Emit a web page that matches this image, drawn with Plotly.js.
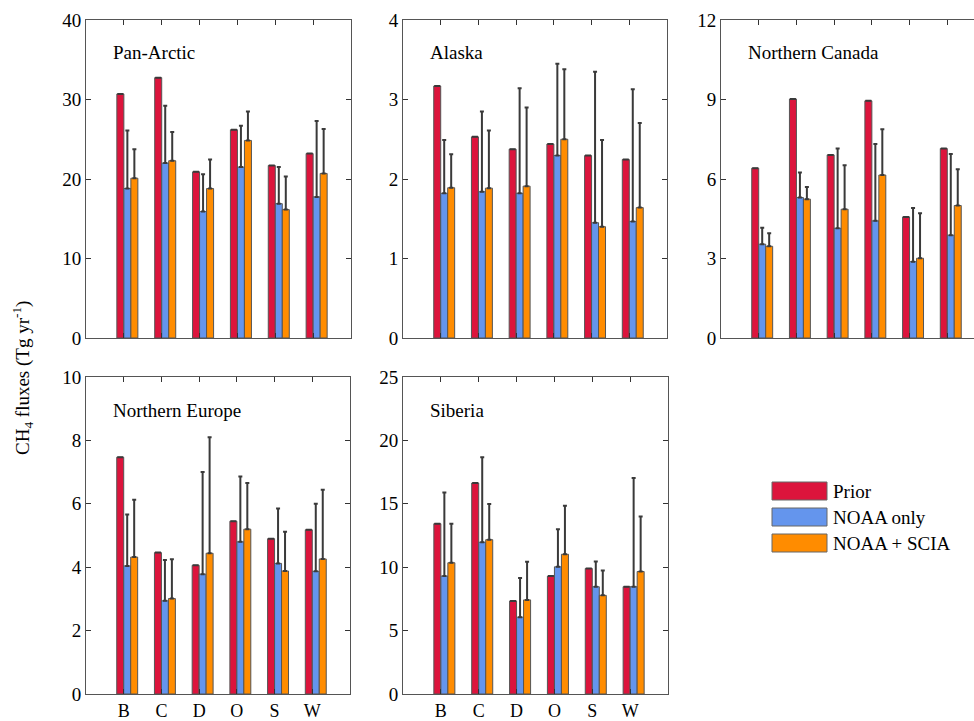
<!DOCTYPE html>
<html>
<head>
<meta charset="utf-8">
<script src="https://cdn.plot.ly/plotly-3.0.1.min.js"></script>
<style>
html,body{margin:0;padding:0;background:#fff;}
#chart{width:974px;height:721px;}
</style>
</head>
<body>
<div id="chart"></div>
<script>
// ---- Data ----
const categories = ['B', 'C', 'D', 'O', 'S', 'W'];
const seriesNames = ['Prior', 'NOAA only', 'NOAA + SCIA'];
const regionNames = ['Pan-Arctic', 'Alaska', 'Northern Canada', 'Northern Europe', 'Siberia'];

const panArcticPrior = [30.7, 32.75, 20.9, 26.2, 21.7, 23.2];
const panArcticNoaa = [18.8, 22.0, 15.9, 21.5, 16.9, 17.75];
const panArcticScia = [20.1, 22.3, 18.8, 24.85, 16.15, 20.7];
const panArcticNoaaUpper = [26.1, 29.2, 20.6, 26.7, 21.5, 27.3];
const panArcticSciaUpper = [23.75, 25.9, 22.45, 28.5, 20.3, 26.3];

const alaskaPrior = [3.17, 2.53, 2.375, 2.44, 2.295, 2.245];
const alaskaNoaa = [1.82, 1.84, 1.82, 2.295, 1.45, 1.466];
const alaskaScia = [1.89, 1.885, 1.91, 2.5, 1.40, 1.64];
const alaskaNoaaUpper = [2.49, 2.85, 3.14, 3.45, 3.35, 3.13];
const alaskaSciaUpper = [2.31, 2.61, 2.90, 3.38, 2.49, 2.705];

const canadaPrior = [6.41, 9.02, 6.91, 8.95, 4.57, 7.15];
const canadaNoaa = [3.54, 5.30, 4.14, 4.42, 2.88, 3.88];
const canadaScia = [3.46, 5.24, 4.86, 6.15, 3.01, 5.0];
const canadaNoaaUpper = [4.16, 6.25, 7.15, 7.32, 4.91, 6.94];
const canadaSciaUpper = [3.95, 5.70, 6.52, 7.88, 4.71, 6.37];

const europePrior = [7.47, 4.46, 4.06, 5.45, 4.9, 5.18];
const europeNoaa = [4.04, 2.94, 3.78, 4.8, 4.12, 3.87];
const europeScia = [4.32, 3.01, 4.44, 5.2, 3.88, 4.26];
const europeNoaaUpper = [5.66, 4.23, 7.0, 6.86, 5.85, 6.0];
const europeSciaUpper = [6.13, 4.25, 8.1, 6.66, 5.12, 6.44];

const siberiaPrior = [13.43, 16.64, 7.34, 9.3, 9.9, 8.46];
const siberiaNoaa = [9.3, 11.97, 6.06, 10.03, 8.46, 8.46];
const siberiaScia = [10.35, 12.17, 7.42, 11.02, 7.78, 9.66];
const siberiaNoaaUpper = [15.9, 18.68, 9.14, 13.0, 10.45, 17.03];
const siberiaSciaUpper = [13.43, 14.99, 10.42, 14.84, 9.74, 14.0];

const yMax = [40, 4, 12, 10, 25];
const yStep = [10, 1, 3, 2, 5];

// ---- Styling / layout ----
const W = 974, H = 721;
const FONT = 'Liberation Serif';
const colors = ['#DC143C', '#6495ED', '#FF8C00'];
const barOffsets = [-0.185, 0, 0.185];
const barWidth = 0.185;

// pixel boxes of panels [left, right, top, bottom]
const boxes = [
  [86, 351, 20, 338],
  [403, 667, 20, 338],
  [721, 985, 20, 338],
  [86, 350, 377, 694],
  [403, 668, 377, 694]
];

const regionData = [
  [panArcticPrior, panArcticNoaa, panArcticScia, panArcticNoaaUpper, panArcticSciaUpper],
  [alaskaPrior, alaskaNoaa, alaskaScia, alaskaNoaaUpper, alaskaSciaUpper],
  [canadaPrior, canadaNoaa, canadaScia, canadaNoaaUpper, canadaSciaUpper],
  [europePrior, europeNoaa, europeScia, europeNoaaUpper, europeSciaUpper],
  [siberiaPrior, siberiaNoaa, siberiaScia, siberiaNoaaUpper, siberiaSciaUpper]
];

const xs = categories.map((c, i) => i + 1);
const traces = [];
const layout = {
  width: W, height: H,
  margin: {l: 0, r: 0, t: 0, b: 0},
  paper_bgcolor: '#fff', plot_bgcolor: '#fff',
  showlegend: false,
  barmode: 'overlay',
  font: {family: FONT, size: 19, color: '#000'},
  annotations: [],
  shapes: []
};

regionData.forEach((d, p) => {
  const n = p + 1;
  const xa = 'x' + (n === 1 ? '' : n);
  const ya = 'y' + (n === 1 ? '' : n);
  const [prior, noaa, scia, noaaUp, sciaUp] = d;
  const vals = [prior, noaa, scia];
  const errs = [prior.map(() => 0), noaa.map((v, i) => noaaUp[i] - v), scia.map((v, i) => sciaUp[i] - v)];
  vals.forEach((v, s) => {
    traces.push({
      type: 'bar', x: xs, y: v, name: seriesNames[s],
      xaxis: xa, yaxis: ya,
      offset: barOffsets[s], width: barWidth,
      marker: {color: colors[s], line: {color: '#555', width: 1}},
      error_y: {type: 'data', symmetric: false, array: errs[s], arrayminus: v.map(() => 0),
                color: '#3a3a3a', thickness: 2, width: s === 0 ? 3 : 2},
      hoverinfo: 'y'
    });
  });
  const b = boxes[p];
  const right = Math.min(b[1], W);
  const xRangeMax = 7 * (right - b[0]) / (b[1] - b[0]);
  const bottomRow = p >= 3;
  const xAxis = {
    domain: [b[0] / W, right / W],
    anchor: ya,
    range: [0, xRangeMax],
    tickvals: xs,
    ticktext: categories,
    showticklabels: bottomRow,
    ticks: 'inside', ticklen: 5, tickcolor: '#333',
    showline: true, linecolor: '#555', linewidth: 1, mirror: 'ticks',
    showgrid: false, zeroline: false,
    tickfont: {family: FONT, size: 18, color: '#000'},
    fixedrange: true
  };
  layout['xaxis' + (n === 1 ? '' : n)] = xAxis;
  const yvals = [];
  for (let t = 0; t <= yMax[p] + 1e-9; t += yStep[p]) yvals.push(t);
  layout['yaxis' + (n === 1 ? '' : n)] = {
    domain: [1 - b[3] / H, 1 - b[2] / H],
    anchor: xa,
    range: [0, yMax[p]],
    tickvals: yvals,
    ticks: 'inside', ticklen: 5, tickcolor: '#333',
    showline: true, linecolor: '#555', linewidth: 1, mirror: p === 2 ? false : 'ticks',
    showgrid: false, zeroline: false,
    tickfont: {family: FONT, size: 19, color: '#000'},
    fixedrange: true
  };
  layout.annotations.push({
    text: regionNames[p], xref: 'paper', yref: 'paper',
    x: (b[0] + 25) / W, y: 1 - (b[2] + 33) / H,
    xanchor: 'left', yanchor: 'middle', showarrow: false,
    font: {family: FONT, size: 19, color: '#000'}
  });
});

// y-axis title
layout.annotations.push({
  text: 'CH<sub>4</sub> fluxes (Tg yr<sup>-1</sup>)',
  xref: 'paper', yref: 'paper', x: 22 / W, y: 1 - 378 / H,
  xanchor: 'center', yanchor: 'middle', textangle: -90, showarrow: false,
  font: {family: FONT, size: 19, color: '#000'}
});

// legend drawn manually (wide swatches as in reference)
const legendRows = [[482, 500], [508, 526], [534, 552]];
seriesNames.forEach((name, s) => {
  const [t, bt] = legendRows[s];
  layout.shapes.push({
    type: 'rect', xref: 'paper', yref: 'paper',
    x0: 772 / W, x1: 827 / W, y0: 1 - bt / H, y1: 1 - t / H,
    fillcolor: colors[s], line: {color: '#666', width: 1}
  });
  layout.annotations.push({
    text: name, xref: 'paper', yref: 'paper',
    x: 831 / W, y: 1 - ((t + bt) / 2) / H,
    xanchor: 'left', yanchor: 'middle', showarrow: false,
    font: {family: FONT, size: 19, color: '#000'}
  });
});

Plotly.newPlot('chart', traces, layout, {staticPlot: true, displayModeBar: false});
</script>
</body>
</html>
